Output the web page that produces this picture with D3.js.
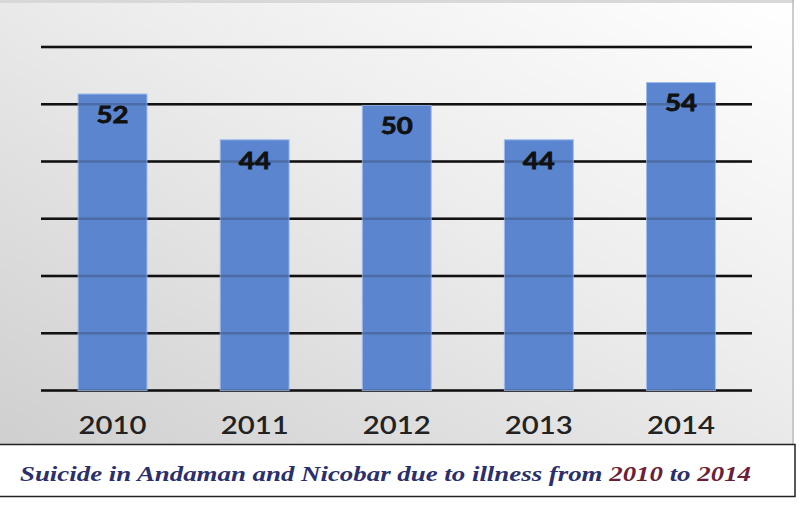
<!DOCTYPE html>
<html><head><meta charset="utf-8">
<script src="https://cdn.jsdelivr.net/npm/d3@7"></script>
<style>html,body{margin:0;padding:0;background:#fff;}svg{display:block;}</style>
</head><body>
<script>
const years = ["2010","2011","2012","2013","2014"];
const values = [52,44,50,44,54];
const gridTicks = [0,10,20,30,40,50,60];
const caption = "Suicide in Andaman and Nicobar due to illness from 2010 to 2014";

const W = 801, H = 509;
const svg = d3.select("body").append("svg").attr("width", W).attr("height", H);
const defs = svg.append("defs");
const grad = defs.append("linearGradient").attr("id","bg").attr("x1","100%").attr("y1","0%").attr("x2","0%").attr("y2","100%");
grad.append("stop").attr("offset","0%").attr("stop-color","#ffffff");
grad.append("stop").attr("offset","45%").attr("stop-color","#ececec");
grad.append("stop").attr("offset","100%").attr("stop-color","#cfcfcf");

// panel
svg.append("rect").attr("x",0).attr("y",0).attr("width",794).attr("height",444).attr("fill","url(#bg)");
svg.append("line").attr("x1",0).attr("x2",794).attr("y1",1.5).attr("y2",1.5).attr("stroke","#d8d8d8").attr("stroke-width",3);
svg.append("line").attr("x1",793).attr("x2",793).attr("y1",0).attr("y2",444).attr("stroke","#bdbdbd").attr("stroke-width",1.5);

// caption box
svg.append("rect").attr("x",-2).attr("y",444.5).attr("width",797).attr("height",52).attr("fill","#fff").attr("stroke","#222").attr("stroke-width",1.5);

const x = d3.scaleBand().domain(years).range([41.5,752]).paddingInner(0.515).paddingOuter(0.2575);
const y = d3.scaleLinear().domain([0,60]).range([390.5,47]);

const g = svg.append("g");
const drawGrid = (op) => g.append("g").selectAll("line").data(gridTicks).join("line")
  .attr("x1",41).attr("x2",752).attr("y1",d=>y(d)).attr("y2",d=>y(d))
  .attr("stroke","#111").attr("stroke-width",2.6).attr("stroke-opacity",op);
drawGrid(1);

g.append("g").selectAll("rect").data(values).join("rect")
  .attr("x",(d,i)=>x(years[i])).attr("width",x.bandwidth())
  .attr("y",d=>y(d)+1.2).attr("height",d=>y(0)-y(d)-1.2)
  .attr("fill","#5b86cf").attr("stroke","#9dbbee").attr("stroke-width",1);
drawGrid(0.22);

g.append("g").selectAll("text").data(values).join("text")
  .attr("x",(d,i)=>x(years[i])+x.bandwidth()/2).attr("y",d=>y(d)+30)
  .attr("text-anchor","middle").attr("font-family","Lato, 'Open Sans', sans-serif")
  .attr("font-weight","bold").attr("font-size",23).attr("fill","#111")
  .attr("stroke","#111").attr("stroke-width",0.8)
  .attr("textLength",32).attr("lengthAdjust","spacingAndGlyphs").text(d=>d);

const xAxis = svg.append("g").attr("transform",`translate(0,${y(0)})`).call(d3.axisBottom(x).tickSize(0).tickPadding(26));
xAxis.select(".domain").remove();
xAxis.selectAll("text").attr("font-family","Lato, 'Open Sans', sans-serif").attr("font-size",24)
  .attr("fill","#222").attr("font-weight","600")
  .attr("textLength",68).attr("lengthAdjust","spacingAndGlyphs");

// caption
const cap = svg.append("text").attr("x",20).attr("y",481).attr("font-family","'Liberation Serif', 'DejaVu Serif', serif")
  .attr("font-style","italic").attr("font-weight","bold").attr("font-size",21).attr("fill","#2b2f6b")
  .attr("textLength",731).attr("lengthAdjust","spacingAndGlyphs");
const parts = caption.split(/(\d{4})/);
parts.forEach(p=>{ if(p) cap.append("tspan").attr("fill", /^\d{4}$/.test(p) ? "#6b1f3a" : "#2b2f6b").text(p); });
</script>
</body></html>
